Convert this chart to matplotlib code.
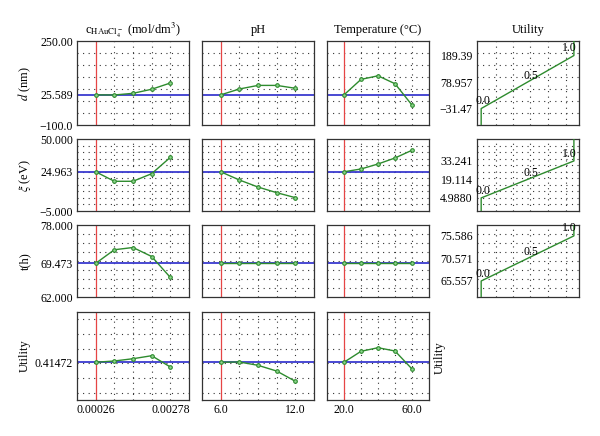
import numpy as np
import matplotlib
matplotlib.use('Agg')
import matplotlib.pyplot as plt

plt.rcParams['font.family'] = ['Liberation Serif', 'DejaVu Serif']
plt.rcParams['mathtext.fontset'] = 'stix'
plt.rcParams['font.size'] = 8.5

# ---------------- data ----------------
col_titles = [r'c$_{\mathrm{HAuCl}_4^{\,-}}$ (mol/dm$^3$)', 'pH', 'Temperature (°C)', 'Utility']
row_labels = [r'$d$ (nm)', r'$\xi$ (eV)', 't(h)', 'Utility']

x_conc = [0.00026, 0.00089, 0.00152, 0.00215, 0.00278]
x_ph = [6.0, 7.5, 9.0, 10.5, 12.0]
x_temp = [20.0, 30.0, 40.0, 50.0, 60.0]
x_ticklabels = [['0.00026', '0.00278'], ['6.0', '12.0'], ['20.0', '60.0']]

d_conc = [25.589, 25.0, 32.0, 49.0, 75.0]
d_ph = [25.589, 50.0, 65.0, 65.0, 53.0]
d_temp = [25.589, 90.0, 105.0, 72.0, -17.0]

xi_conc = [24.963, 17.7, 17.7, 23.5, 36.0]
xi_ph = [24.963, 18.7, 13.3, 9.0, 5.2]
xi_temp = [24.963, 27.1, 30.9, 35.5, 41.4]

t_conc = [69.473, 72.5, 73.0, 71.0, 66.35]
t_ph = [69.473, 69.473, 69.473, 69.473, 69.473]
t_temp = [69.473, 69.473, 69.473, 69.473, 69.473]

u_conc = [0.41472, 0.432, 0.463, 0.504, 0.35]
u_ph = [0.41472, 0.418, 0.373, 0.295, 0.155]
u_temp = [0.41472, 0.564, 0.613, 0.568, 0.323]

row_current = [25.589, 24.963, 69.473, 0.41472]
row_limits = [(-100.0, 250.0), (-5.0, 50.0), (62.0, 78.0), (-0.1, 1.1)]
row_ticklabels = [['−100.0', '25.589', '250.00'],
                  ['−5.000', '24.963', '50.000'],
                  ['62.000', '69.473', '78.000'],
                  ['0.41472']]

# desirability functions (utility column)
desir_levels = [0.0, 0.5, 1.0]
desir_d = [-31.47, 78.957, 189.39]
desir_xi = [4.9880, 19.114, 33.241]
desir_t = [65.557, 70.571, 75.586]
desir_ticklabels = [['−31.47', '78.957', '189.39'],
                    ['4.9880', '19.114', '33.241'],
                    ['65.557', '70.571', '75.586']]

xs = [x_conc, x_ph, x_temp]
ys = [[d_conc, d_ph, d_temp], [xi_conc, xi_ph, xi_temp],
      [t_conc, t_ph, t_temp], [u_conc, u_ph, u_temp]]
desirs = [desir_d, desir_xi, desir_t]

# ---------------- layout ----------------
W, H = 600, 436
fig = plt.figure(figsize=(W / 100, H / 100), dpi=100)


def rect(l, t, r, b):
    return [l / W, 1 - b / H, (r - l) / W, (b - t) / H]


cols = [(77, 189), (202, 314), (327, 429)]
col4 = (477, 579)
rows = [(41, 125), (139, 211), (225, 297), (312, 400)]
row_grid_step = [50.0, 5.0, 2.0, 0.2]

GREEN = '#2e8b2e'
BLUE = '#3a3acf'
RED = '#e64545'
GRID = dict(color='#333333', linestyle=(0, (1, 4)), linewidth=0.8)


def style(ax):
    for s in ax.spines.values():
        s.set_color('#333333')
        s.set_linewidth(0.9)
    ax.tick_params(which='both', length=0, pad=3, labelsize=8.5)


def ygrid(ax, r):
    lo, hi = row_limits[r]
    step = row_grid_step[r]
    g = np.arange(np.ceil(lo / step) * step, hi, step)
    g = [v for v in g if lo + 1e-9 < v < hi - 1e-9]
    if r == 3:
        g = [v for v in g if -1e-9 <= v <= 1.0 + 1e-9]
    for v in g:
        ax.axhline(v, zorder=0, **GRID)


for r in range(4):
    t, b = rows[r]
    for c in range(3):
        l, rr = cols[c]
        ax = fig.add_axes(rect(l, t, rr, b))
        style(ax)
        x = xs[c]
        step = x[1] - x[0]
        ax.set_xlim(x[0] - step, x[-1] + step)
        ax.set_ylim(*row_limits[r])
        ygrid(ax, r)
        for xv in x[1:]:
            ax.axvline(xv, zorder=0, **GRID)
        ax.axhline(row_current[r], color=BLUE, lw=1.3, zorder=2)
        ax.axvline(x[0], color=RED, lw=0.9, zorder=2)
        ax.plot(x, ys[r][c], color=GREEN, lw=1.0, marker='o', ms=2.6,
                mfc='#8fd68f', mec=GREEN, mew=0.8, zorder=3)
        if c == 0:
            if r < 3:
                lo, hi = row_limits[r]
                ax.set_yticks([lo, row_current[r], hi])
            else:
                ax.set_yticks([row_current[r]])
            ax.set_yticklabels(row_ticklabels[r])
        else:
            ax.set_yticks([])
        if r == 3:
            ax.set_xticks([x[0], x[-1]])
            ax.set_xticklabels(x_ticklabels[c])
        else:
            ax.set_xticks([])
        if r == 0:
            fig.text(((l + rr) / 2) / W, 1 - 30 / H, col_titles[c],
                     ha='center', va='center', fontsize=9)

    # labels on the left
    fig.text(25 / W, 1 - ((t + b) / 2) / H, row_labels[r], rotation=90,
             ha='center', va='center', fontsize=9)

    # utility / desirability column
    if r < 3:
        l, rr = col4
        ax = fig.add_axes(rect(l, t, rr, b))
        style(ax)
        lo, hi = row_limits[r]
        ax.set_xlim(-0.045, 1.055)
        ax.set_ylim(lo, hi)
        ygrid(ax, r)
        for xv in [0.165, 0.345, 0.53, 0.72, 0.91]:
            ax.axvline(xv, zorder=0, **GRID)
        dv = desirs[r]
        ax.plot([desir_levels[0]] + desir_levels + [desir_levels[-1]],
                [lo] + dv + [hi], color=GREEN, lw=1.0, zorder=3)
        ax.set_yticks(dv)
        ax.set_yticklabels(desir_ticklabels[r])
        ax.set_xticks([])
        offs = [(1.5, 1.0, 'center'), (2.5, 0.0, 'center'), (-3.0, 1.0, 'center')]
        for lev, val, (dx, dy, ha) in zip(desir_levels, dv, offs):
            ax.annotate(f'{lev:.1f}', (lev, val), xytext=(dx, dy),
                        textcoords='offset points', ha=ha, va='bottom',
                        fontsize=8.5, zorder=4)
        if r == 0:
            fig.text(((l + rr) / 2) / W, 1 - 30 / H, col_titles[3],
                     ha='center', va='center', fontsize=9)

# y label of the utility column for the last row
fig.text(440 / W, 1 - 358 / H, 'Utility', rotation=90, ha='center',
         va='center', fontsize=9)

fig.savefig('out.png', dpi=100)
